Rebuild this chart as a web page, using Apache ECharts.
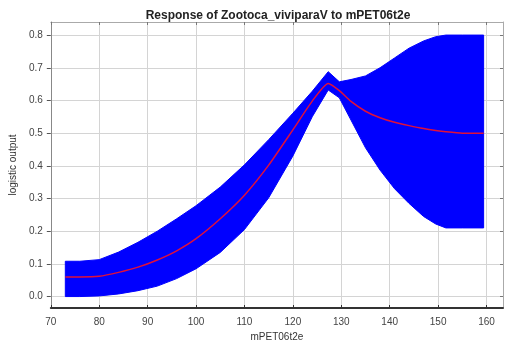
<!DOCTYPE html>
<html>
<head>
<meta charset="utf-8">
<script src="https://cdn.jsdelivr.net/npm/echarts@6/dist/echarts.min.js"></script>
<style>
  html, body { margin: 0; padding: 0; background: #fff; }
  #chart { width: 508px; height: 349px; }
</style>
</head>
<body>
<div id="chart"></div>
<script>
// Predictor values (mPET06t2e)
const xValues = [73, 76, 80, 84, 88, 92, 96, 100, 105, 110, 115, 120, 124, 127.3, 129.6, 132, 135, 138, 141, 144, 147, 149.5, 151.6, 155, 159.4];
// Upper bound of the response envelope
const upperValues = [0.108, 0.108, 0.113, 0.136, 0.166, 0.2, 0.238, 0.278, 0.335, 0.403, 0.48, 0.561, 0.628, 0.688, 0.657, 0.664, 0.675, 0.7, 0.73, 0.76, 0.782, 0.795, 0.8, 0.8, 0.8];
// Mean logistic response
const meanValues = [0.06, 0.06, 0.062, 0.074, 0.09, 0.112, 0.14, 0.177, 0.238, 0.31, 0.402, 0.51, 0.598, 0.652, 0.63, 0.597, 0.567, 0.547, 0.533, 0.523, 0.514, 0.508, 0.504, 0.5, 0.5];
// Lower bound of the response envelope
const lowerValues = [0.0, 0.0, 0.002, 0.008, 0.018, 0.032, 0.055, 0.085, 0.135, 0.205, 0.302, 0.43, 0.55, 0.632, 0.608, 0.54, 0.455, 0.387, 0.33, 0.285, 0.245, 0.222, 0.21, 0.21, 0.21];
// Tick positions
const xTicks = [70, 80, 90, 100, 110, 120, 130, 140, 150, 160];
const yTicks = [0.0, 0.1, 0.2, 0.3, 0.4, 0.5, 0.6, 0.7, 0.8];

const chart = echarts.init(document.getElementById('chart'), null, { renderer: 'canvas' });

const font = '"Liberation Sans", Arial, sans-serif';
const gridColor = '#d4d4d4';

const option = {
  animation: false,
  backgroundColor: '#ffffff',
  title: {
    text: 'Response of Zootoca_viviparaV to mPET06t2e',
    left: 273,
    textAlign: 'center',
    top: 5,
    textStyle: { fontFamily: font, fontSize: 12, fontWeight: 'bold', color: '#222' }
  },
  grid: { left: 43, right: 5, top: 22, bottom: 41, containLabel: false },
  xAxis: [{
    type: 'value',
    min: 70,
    max: 163.4,
    name: 'mPET06t2e',
    nameLocation: 'middle',
    nameGap: 24,
    nameTextStyle: { fontFamily: font, fontSize: 10, color: '#333' },
    axisLine: { show: true, onZero: false, lineStyle: { color: '#333', width: 2 } },
    axisTick: { show: true, inside: true, length: 3, customValues: xTicks, lineStyle: { color: '#333' } },
    axisLabel: { customValues: xTicks, margin: 9, fontFamily: font, fontSize: 10, color: '#444' },
    splitLine: { show: true, lineStyle: { color: gridColor, width: 1 } }
  }, {
    type: 'value',
    position: 'top',
    min: 70,
    max: 163.4,
    axisLine: { show: true, onZero: false, lineStyle: { color: '#aaa', width: 1 } },
    axisTick: { show: true, inside: true, length: 3, customValues: xTicks, lineStyle: { color: '#777' } },
    axisLabel: { show: false },
    splitLine: { show: false }
  }],
  yAxis: [{
    type: 'value',
    min: -0.035,
    max: 0.84,
    name: 'logistic output',
    nameLocation: 'middle',
    nameGap: 30,
    nameRotate: 90,
    nameTextStyle: { fontFamily: font, fontSize: 10, color: '#333' },
    axisLine: { show: true, onZero: false, lineStyle: { color: '#888', width: 1 } },
    axisTick: { show: true, inside: false, length: 4, customValues: yTicks, lineStyle: { color: '#555' } },
    axisLabel: {
      customValues: yTicks, margin: 8, fontFamily: font, fontSize: 10, color: '#444',
      formatter: v => Number(v).toFixed(1)
    },
    splitLine: { show: true, lineStyle: { color: gridColor, width: 1 } }
  }, {
    type: 'value',
    position: 'right',
    min: -0.035,
    max: 0.84,
    axisLine: { show: true, onZero: false, lineStyle: { color: '#aaa', width: 1 } },
    axisTick: { show: true, inside: true, length: 3, customValues: yTicks, lineStyle: { color: '#777' } },
    axisLabel: { show: false },
    splitLine: { show: false }
  }],
  series: [{
    // Filled envelope between lower and upper bounds
    type: 'custom',
    xAxisIndex: 0,
    yAxisIndex: 0,
    clip: true,
    silent: true,
    data: [[xValues[0], lowerValues[0]]],
    renderItem: function (params, api) {
      const pts = [];
      for (let i = 0; i < xValues.length; i++) pts.push(api.coord([xValues[i], upperValues[i]]));
      for (let i = xValues.length - 1; i >= 0; i--) pts.push(api.coord([xValues[i], lowerValues[i]]));
      return {
        type: 'polygon',
        shape: { points: pts },
        style: { fill: '#0000ff', stroke: '#0000ff', lineWidth: 1, lineJoin: 'round' }
      };
    }
  }, {
    // Mean response curve
    type: 'line',
    xAxisIndex: 0,
    yAxisIndex: 0,
    data: xValues.map((x, i) => [x, meanValues[i]]),
    showSymbol: false,
    smooth: 0.2,
    lineStyle: { color: '#e0103a', width: 1.5 },
    z: 5
  }]
};

chart.setOption(option);
</script>
</body>
</html>
